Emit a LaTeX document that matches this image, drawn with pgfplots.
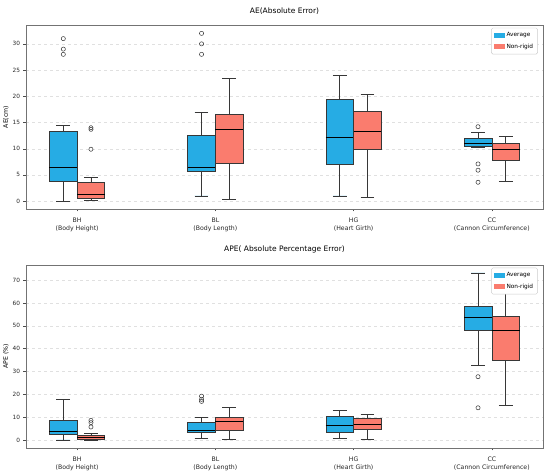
\documentclass[border=0pt]{standalone}
\usepackage{fontspec}
\setmainfont{DejaVu Sans}
\usepackage{pgfplots}
\pgfplotsset{compat=1.18}
\usepgfplotslibrary{statistics}
\definecolor{cblue}{RGB}{38,172,228}
\definecolor{cred}{RGB}{250,124,110}
\definecolor{edge}{RGB}{55,55,55}
\pgfplotsset{
  common/.style={
    scale only axis, width=517pt,
    xmin=0.63, xmax=4.37,
    xtick={1,2,3,4},
    xticklabels={{BH\\(Body Height)},{BL\\(Body Length)},{HG\\(Heart Girth)},{CC\\(Cannon Circumference)}},
    xticklabel style={align=center, font=\fontsize{6.2}{8.5}\selectfont, color=black!85, yshift=-2.5pt},
    yticklabel style={font=\fontsize{5.8}{6}\selectfont, color=black!85},
    /pgf/number format/assume math mode=true,
    tick align=outside, tick pos=left,
    major tick length=2.5pt,
    every tick/.style={black!70, line width=0.4pt},
    axis line style={black!55, line width=0.6pt},
    ymajorgrids, grid style={dashed, black!12, line width=0.4pt},
    ylabel style={font=\fontsize{6.2}{7}\selectfont, yshift=-3pt},
    title style={font=\fontsize{7.5}{8}\selectfont, inner sep=0pt},
    legend style={at={(0.99,0.985)}, anchor=north east, font=\fontsize{5.8}{6}\selectfont,
      draw=black!20, rounded corners=1.5pt, row sep=1.5pt, inner sep=2.5pt},
    legend cell align=left,
    legend image code/.code={\draw[sharp corners, #1] (0cm,-0.07cm) rectangle (0.36cm,0.07cm);},
  },
  bx/.style={forget plot, draw=edge, line width=0.6pt, mark=o, mark size=2.1pt,
    mark options={draw=black!80, line width=0.5pt, fill=none},
    boxplot/draw direction=y,
    boxplot/box extend=0.2, boxplot/whisker extend=0.1,
    boxplot/every median/.style={black, line width=1.1pt}},
}
\begin{document}
\begin{tikzpicture}
\useasboundingbox (0,0) rectangle (550pt,473pt);
% ---------- top: AE ----------
\begin{axis}[common, at={(26pt,264pt)}, anchor=south west, height=184pt,
  ymin=-1.5, ymax=33.6, ytick={0,5,...,30},
  ylabel={AE(cm)}, title={AE(Absolute Error)}, title style={yshift=4pt}]
\addlegendimage{fill=cblue, draw=cblue}
\addlegendentry{Average}
\addlegendimage{fill=cred, draw=cred}
\addlegendentry{Non-rigid}
% BH
\addplot[bx, fill=cblue, boxplot prepared={draw position=0.9, lower whisker=0, lower quartile=3.8, median=6.5, upper quartile=13.25, upper whisker=14.5}] table[row sep=\\, y index=0] {31\\29\\28\\};
\addplot[bx, fill=cred, boxplot prepared={draw position=1.1, lower whisker=0.1, lower quartile=0.6, median=1.3, upper quartile=3.6, upper whisker=4.5}] table[row sep=\\, y index=0] {14\\13.7\\9.9\\};
% BL
\addplot[bx, fill=cblue, boxplot prepared={draw position=1.9, lower whisker=1.0, lower quartile=5.7, median=6.5, upper quartile=12.5, upper whisker=17}] table[row sep=\\, y index=0] {32\\30\\28\\};
\addplot[bx, fill=cred, boxplot prepared={draw position=2.1, lower whisker=0.3, lower quartile=7.2, median=13.6, upper quartile=16.5, upper whisker=23.4}] coordinates {};
% HG
\addplot[bx, fill=cblue, boxplot prepared={draw position=2.9, lower whisker=1.0, lower quartile=7.0, median=12.2, upper quartile=19.4, upper whisker=24}] coordinates {};
\addplot[bx, fill=cred, boxplot prepared={draw position=3.1, lower whisker=0.7, lower quartile=9.9, median=13.2, upper quartile=17.1, upper whisker=20.4}] coordinates {};
% CC
\addplot[bx, fill=cblue, boxplot prepared={draw position=3.9, lower whisker=10.2, lower quartile=10.4, median=11.0, upper quartile=11.9, upper whisker=13.1}] table[row sep=\\, y index=0] {14.2\\7.1\\5.9\\3.6\\};
\addplot[bx, fill=cred, boxplot prepared={draw position=4.1, lower whisker=3.7, lower quartile=7.8, median=9.9, upper quartile=11.1, upper whisker=12.3}] coordinates {};
\end{axis}
% ---------- bottom: APE ----------
\begin{axis}[common, at={(26pt,25pt)}, anchor=south west, height=183pt,
  ymin=-3.5, ymax=76.6, ytick={0,10,...,70},
  ylabel={APE (\%)}, title={APE( Absolute Percentage Error)}, title style={yshift=6pt}]
\addlegendimage{fill=cblue, draw=cblue}
\addlegendentry{Average}
\addlegendimage{fill=cred, draw=cred}
\addlegendentry{Non-rigid}
% BH
\addplot[bx, fill=cblue, boxplot prepared={draw position=0.9, lower whisker=0, lower quartile=2.3, median=3.9, upper quartile=8.6, upper whisker=17.8}] coordinates {};
\addplot[bx, fill=cred, boxplot prepared={draw position=1.1, lower whisker=0, lower quartile=0.4, median=1.2, upper quartile=2.0, upper whisker=2.9}] table[row sep=\\, y index=0] {8.6\\7.6\\5.7\\};
% BL
\addplot[bx, fill=cblue, boxplot prepared={draw position=1.9, lower whisker=0.7, lower quartile=3.3, median=4.2, upper quartile=7.6, upper whisker=10.0}] table[row sep=\\, y index=0] {19.2\\17.8\\16.9\\};
\addplot[bx, fill=cred, boxplot prepared={draw position=2.1, lower whisker=0.3, lower quartile=4.2, median=8.1, upper quartile=10.0, upper whisker=14.4}] coordinates {};
% HG
\addplot[bx, fill=cblue, boxplot prepared={draw position=2.9, lower whisker=0.6, lower quartile=3.5, median=6.5, upper quartile=10.5, upper whisker=12.8}] coordinates {};
\addplot[bx, fill=cred, boxplot prepared={draw position=3.1, lower whisker=0.4, lower quartile=4.9, median=6.8, upper quartile=9.6, upper whisker=11.2}] coordinates {};
% CC
\addplot[bx, fill=cblue, boxplot prepared={draw position=3.9, lower whisker=32.7, lower quartile=48.0, median=53.8, upper quartile=58.7, upper whisker=73.1}] table[row sep=\\, y index=0] {27.7\\14.1\\};
\addplot[bx, fill=cred, boxplot prepared={draw position=4.1, lower whisker=15.0, lower quartile=34.9, median=48.0, upper quartile=54.3, upper whisker=64.6}] coordinates {};
\end{axis}
\end{tikzpicture}
\end{document}
